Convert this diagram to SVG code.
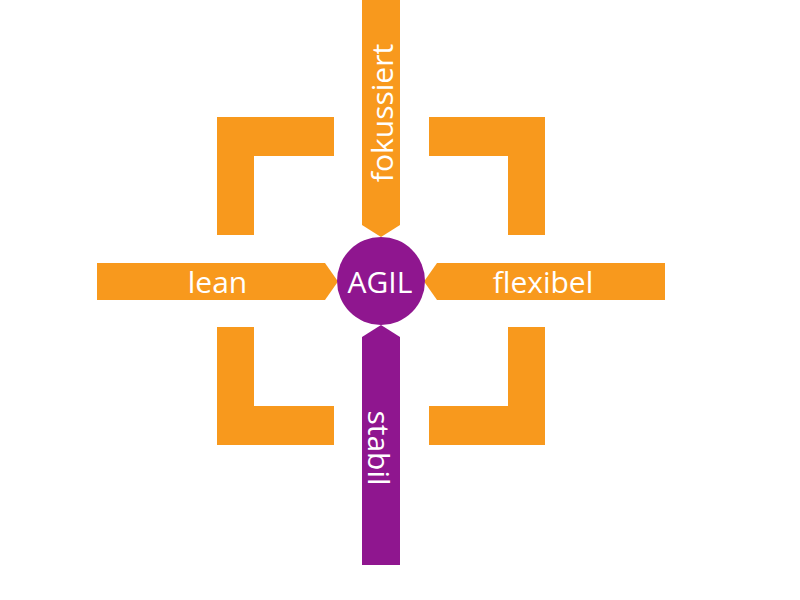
<svg xmlns="http://www.w3.org/2000/svg" width="800" height="600" viewBox="0 0 800 600">
<style>
.o{fill:#F8991D}
.p{fill:#8F168F}
.t{fill:#FFFFFF;font-family:"Open Sans","Liberation Sans",sans-serif;font-size:30px;text-anchor:middle}
</style>
<rect width="800" height="600" fill="#FFFFFF"/>
<g id="corners">
<polygon id="corner-tl" class="o" points="217,117 334,117 334,156 254,156 254,235 217,235"/>
<polygon id="corner-tr" class="o" points="545,117 429,117 429,156 508,156 508,235 545,235"/>
<polygon id="corner-bl" class="o" points="217,445 334,445 334,406 254,406 254,327 217,327"/>
<polygon id="corner-br" class="o" points="545,445 429,445 429,406 508,406 508,327 545,327"/>
</g>
<g id="connectors">
<g id="arrow-fokussiert">
<polygon class="o" points="362,0 400,0 400,225 381,237 362,225"/>
<text class="t" transform="translate(393,113) rotate(-90)">fokussiert</text>
</g>
<g id="arrow-lean">
<polygon class="o" points="97,263 325,263 338,281.5 325,300 97,300"/>
<text class="t" x="217.5" y="293">lean</text>
</g>
<g id="arrow-flexibel">
<polygon class="o" points="665,263 437,263 424,281.5 437,300 665,300"/>
<text class="t" x="543" y="293">flexibel</text>
</g>
<g id="arrow-stabil">
<polygon class="p" points="362,337 381,325 400,337 400,565 362,565"/>
<text class="t" transform="translate(368,448) rotate(90)">stabil</text>
</g>
</g>
<g id="node-agil">
<circle class="p" cx="381" cy="281" r="44"/>
<text class="t" x="380" y="293">AGIL</text>
</g>
</svg>
